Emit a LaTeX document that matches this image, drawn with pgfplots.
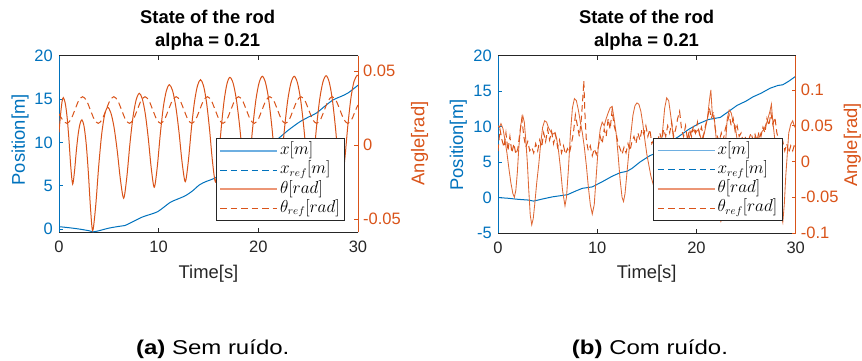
\documentclass[border=0pt]{standalone}
\usepackage{fontspec}
\setmainfont{Liberation Sans}
\newfontfamily\pf[FakeStretch=1.2]{Liberation Sans}
\usepackage{pgfplots}
\pgfplotsset{compat=1.18}
\definecolor{mblue}{RGB}{0,114,189}
\definecolor{morange}{RGB}{217,83,25}
\definecolor{mgray}{RGB}{38,38,38}
\definecolor{lblue}{RGB}{110,175,225}
\definecolor{lorange}{RGB}{236,150,118}

\pgfplotsset{
  base/.style={scale only axis, xmin=0, xmax=30, clip=true, tick align=inside,
    major tick length=4pt, scaled y ticks=false, scaled x ticks=false,
    every tick label/.append style={font=\fontsize{16.5}{16.5}\selectfont},
    legend image code/.code={\draw[##1] (0pt,0pt) -- (57pt,0pt);},
  },
  leftax/.style={base, axis x line*=box, axis y line*=left,
    xtick={0,10,20,30}, xticklabels={0,10,20,30}, xtick pos=both, xticklabel pos=lower,
    x axis line style={mgray, line width=0.7pt}, xtick style={mgray, line width=0.7pt},
    xticklabel style={text=mgray, anchor=base, yshift=-20.4pt},
    y axis line style={mblue, line width=0.7pt}, ytick style={mblue, line width=0.7pt},
    yticklabel style={text=mblue, anchor=east, inner sep=0pt, xshift=-6pt},
    xlabel={Time[s]}, ylabel={Position[m]},
    xlabel style={anchor=center, font=\fontsize{18.4}{18.4}\selectfont, text=mgray},
    ylabel style={anchor=center, font=\fontsize{18.4}{18.4}\selectfont, text=mblue},
    title style={anchor=center, align=center, inner sep=0pt,
      font=\bfseries\fontsize{18.4}{23.4}\selectfont, text=black},
  },
  rightax/.style={base, hide x axis, axis y line*=right,
    y axis line style={morange, line width=0.7pt}, ytick style={morange, line width=0.7pt},
    yticklabel style={text=morange, anchor=west, inner sep=0pt, xshift=5pt},
    ylabel={Angle[rad]},
    ylabel style={anchor=center, font=\fontsize{18.4}{18.4}\selectfont, text=morange},
    legend cell align=left,
    legend style={anchor=south east, draw=mgray, line width=0.8pt, fill=white,
      font=\fontsize{16}{16}\selectfont, inner xsep=3pt, inner ysep=4.2pt,
      row sep=3pt, column sep=0pt,
      nodes={inner xsep=2pt, inner ysep=0pt, text height=12pt, text depth=4.2pt}},
  },
  solidth/.style={morange, line width=1pt},
  solidthn/.style={morange!88, line width=0.85pt},
  dashth/.style={morange, line width=1pt, dash pattern=on 6.5pt off 4pt},
  xline/.style={mblue, line width=1pt},
}

\newcommand{\legendset}{%
  \addlegendimage{lblue, line width=1.8pt}
  \addlegendentry{$x[m]$}
  \addlegendimage{mblue, line width=1pt, dash pattern=on 6.5pt off 4pt}
  \addlegendentry{$x_{ref}[m]$}
  \addlegendimage{lorange, line width=1.8pt}
  \addlegendentry{$\theta[rad]$}
  \addlegendimage{morange, line width=1pt, dash pattern=on 6.5pt off 4pt}
  \addlegendentry{$\theta_{ref}[rad]$}
}

\begin{document}
\begin{tikzpicture}
\useasboundingbox (0,0) rectangle (862pt,361pt);

% ================= (a) left axis: position =================
\begin{axis}[leftax, at={(59pt,128.7pt)}, anchor=south west, width=299pt, height=176.6pt,
  ymin=-0.38, ymax=20, ytick={0,5,10,15,20}, yticklabels={0,5,10,15,20},
  xlabel style={at={(rel axis cs:0.5,-0.232)}},
  ylabel style={at={(rel axis cs:-0.130,0.523)}},
  title={State of the rod\\alpha = 0.21},
  title style={at={(rel axis cs:0.497,1.1115)}}]
\addplot[xline, smooth] coordinates {
(0,0.27) (1,0.15) (2,0.0) (3,-0.2) (3.4,-0.33) (4,-0.2) (5,0.1) (6,0.3) (6.6,0.4)
(7.5,0.9) (8.4,1.4) (9.2,1.7) (9.9,2.0) (10.5,2.5) (11.2,3.1) (12,3.5) (12.7,3.85)
(13.4,4.4) (14.1,5.1) (14.8,5.5) (15.6,5.85) (16.5,6.5) (17.5,7.3) (18.5,8.0)
(19.5,8.7) (20.5,9.3) (21.85,10.3) (23,11.4) (24.2,12.4) (25,12.9) (25.85,13.4)
(26.7,14.2) (27.5,14.9) (28.3,15.3) (29,15.7) (29.9,16.5) (30,16.6)};
\end{axis}

% ================= (a) right axis: angle =================
\begin{axis}[rightax, at={(59pt,128.7pt)}, anchor=south west, width=299pt, height=176.6pt,
  ymin=-0.059, ymax=0.0603, ytick={-0.05,0,0.05}, yticklabels={-0.05,0,0.05},
  ylabel style={at={(rel axis cs:1.206,0.503)}},
  legend style={at={(rel axis cs:0.957,0.063)}}]
\legendset
\addplot[solidth, smooth, forget plot] coordinates {
(0,0.0085) (0.15,0.020) (0.3,0.029) (0.43,0.032)
(0.618,0.0285) (0.806,0.0192) (0.994,0.004) (1.182,-0.0147) (1.37,-0.0264)
(1.556,-0.0177) (1.742,-0.0038) (1.928,0.0075) (2.114,0.0144) (2.3,0.017)
(2.516,0.0125) (2.732,0.0005) (2.948,-0.019) (3.164,-0.043) (3.38,-0.058)
(3.68,-0.0413) (3.98,-0.0146) (4.28,0.0071) (4.58,0.0204) (4.88,0.0254)
(5.202,0.0217) (5.524,0.0119) (5.846,-0.0041) (6.168,-0.0237) (6.49,-0.036)
(6.804,-0.0218) (7.118,0.0009) (7.432,0.0193) (7.746,0.0306) (8.06,0.0349)
(8.36,0.0311) (8.66,0.0209) (8.96,0.0044) (9.26,-0.0159) (9.56,-0.0286)
(9.862,-0.0147) (10.164,0.0074) (10.466,0.0255) (10.768,0.0365) (11.07,0.0407)
(11.39,0.0368) (11.71,0.0263) (12.03,0.0093) (12.35,-0.0117) (12.67,-0.0248)
(12.976,-0.011) (13.282,0.011) (13.588,0.0289) (13.894,0.04) (14.2,0.0441)
(14.5,0.04) (14.8,0.0289) (15.1,0.0109) (15.4,-0.0112) (15.7,-0.025)
(15.99,-0.0109) (16.28,0.0117) (16.57,0.0301) (16.86,0.0415) (17.15,0.0457)
(17.48,0.0415) (17.81,0.0301) (18.14,0.0117) (18.47,-0.0109) (18.8,-0.025)
(19.12,-0.0107) (19.44,0.0121) (19.76,0.0307) (20.08,0.0421) (20.4,0.0464)
(20.72,0.0421) (21.04,0.0307) (21.36,0.0121) (21.68,-0.0107) (22.0,-0.025)
(22.32,-0.0107) (22.64,0.0121) (22.96,0.0307) (23.28,0.0421) (23.6,0.0464)
(23.92,0.0421) (24.24,0.0307) (24.56,0.0121) (24.88,-0.0107) (25.2,-0.025)
(25.52,-0.0106) (25.84,0.0123) (26.16,0.031) (26.48,0.0425) (26.8,0.0468)
(27.11,0.0425) (27.42,0.031) (27.73,0.0123) (28.04,-0.0106) (28.35,-0.025)
(28.66,-0.0106) (28.97,0.0124) (29.28,0.0312) (29.59,0.0427) (29.9,0.047) (30,0.0469)};
\addplot[dashth, smooth, forget plot] coordinates {
(0,0.021) (0.41,0.0165)
(0.805,0.0146) (1.196,0.0172) (1.588,0.0236) (1.979,0.030) (2.37,0.0326) (2.761,0.030) (3.153,0.0236) (3.544,0.0172)
(3.935,0.0146) (4.326,0.0172) (4.718,0.0236) (5.109,0.030) (5.5,0.0326) (5.891,0.030) (6.283,0.0236) (6.674,0.0172)
(7.065,0.0146) (7.456,0.0172) (7.848,0.0236) (8.239,0.030) (8.63,0.0326) (9.021,0.030) (9.413,0.0236) (9.804,0.0172)
(10.195,0.0146) (10.586,0.0172) (10.978,0.0236) (11.369,0.030) (11.76,0.0326) (12.151,0.030) (12.543,0.0236) (12.934,0.0172)
(13.325,0.0146) (13.716,0.0172) (14.108,0.0236) (14.499,0.030) (14.89,0.0326) (15.281,0.030) (15.673,0.0236) (16.064,0.0172)
(16.455,0.0146) (16.846,0.0172) (17.238,0.0236) (17.629,0.030) (18.02,0.0326) (18.411,0.030) (18.803,0.0236) (19.194,0.0172)
(19.585,0.0146) (19.976,0.0172) (20.368,0.0236) (20.759,0.030) (21.15,0.0326) (21.541,0.030) (21.933,0.0236) (22.324,0.0172)
(22.715,0.0146) (23.106,0.0172) (23.498,0.0236) (23.889,0.030) (24.28,0.0326) (24.671,0.030) (25.063,0.0236) (25.454,0.0172)
(25.845,0.0146) (26.236,0.0172) (26.628,0.0236) (27.019,0.030) (27.41,0.0326) (27.801,0.030) (28.193,0.0236) (28.584,0.0172)
(28.975,0.0146) (29.366,0.0172) (29.758,0.0236) (30,0.027)};
\end{axis}

% ================= (b) left axis: position =================
\begin{axis}[leftax, at={(498pt,128pt)}, anchor=south west, width=297.7pt, height=177.3pt,
  ymin=-5, ymax=20, ytick={-5,0,5,10,15,20}, yticklabels={-5,0,5,10,15,20},
  xlabel style={at={(rel axis cs:0.4995,-0.227)}},
  ylabel style={at={(rel axis cs:-0.133,0.496)}},
  title={State of the rod\\alpha = 0.21},
  title style={at={(rel axis cs:0.499,1.111)}}]
\addplot[xline] coordinates {
(0,0.0) (1,-0.1) (2,-0.25) (3,-0.35) (3.6,-0.5) (4.5,-0.2) (5.5,0.1) (6.5,0.3) (7,0.4)
(7.8,0.9) (8.5,1.3) (9.5,1.5) (10.6,2.3) (11.5,3.0) (12.3,3.5) (13,3.7) (13.5,4.1)
(14.3,5.0) (15.3,5.9) (16.3,6.5) (17.2,7.7) (18.2,8.6) (19.2,9.6) (20.2,10.4)
(21.2,11.0) (22.4,11.3) (23.2,12.1) (24.1,13.0) (25.0,13.6) (25.7,14.2) (26.5,14.7)
(27.4,15.4) (28.2,15.8) (28.7,15.9) (29.3,16.4) (30,17.1)};
\end{axis}

% ================= (b) right axis: angle =================
\begin{axis}[rightax, at={(498pt,128pt)}, anchor=south west, width=297.7pt, height=177.3pt,
  ymin=-0.1, ymax=0.148, ytick={-0.1,-0.05,0,0.05,0.1}, yticklabels={-0.1,-0.05,0,0.05,0.1},
  ylabel style={at={(rel axis cs:1.19,0.496)}},
  legend style={at={(rel axis cs:0.956,0.069)}}]
\legendset
\addplot[solidthn, forget plot] coordinates {
(0.0,0.050) (0.15,0.048) (0.3,0.053) (0.5,0.046) (0.7,0.030) (0.9,0.012) (1.1,-0.010)
(1.3,-0.030) (1.5,-0.045) (1.65,-0.050) (1.8,-0.040) (1.95,-0.015) (2.1,0.020) (2.3,0.052)
(2.5,0.064) (2.65,0.055) (2.8,0.030) (2.95,0.000) (3.1,-0.040) (3.25,-0.075) (3.4,-0.0885)
(3.55,-0.080) (3.7,-0.060) (3.9,-0.030) (4.1,-0.005) (4.3,0.025) (4.5,0.048) (4.7,0.057)
(4.9,0.055) (5.1,0.047) (5.3,0.042) (5.5,0.038) (5.7,0.040) (5.9,0.033) (6.1,0.015)
(6.3,-0.010) (6.5,-0.040) (6.75,-0.062) (6.9,-0.050) (7.1,-0.010) (7.3,0.040) (7.5,0.075)
(7.7,0.088) (7.9,0.085) (8.1,0.072) (8.3,0.055) (8.5,0.040) (8.7,0.020) (8.9,-0.005)
(9.1,-0.035) (9.3,-0.060) (9.5,-0.0736) (9.7,-0.060) (9.9,-0.020) (10.1,0.020) (10.3,0.045)
(10.5,0.055) (10.7,0.050) (10.9,0.060) (11.1,0.068) (11.3,0.075) (11.5,0.077) (11.7,0.060)
(11.9,0.040) (12.1,0.010) (12.3,-0.025) (12.5,-0.050) (12.65,-0.056) (12.8,-0.045)
(13.0,-0.015) (13.2,0.015) (13.4,0.040) (13.6,0.065) (13.8,0.078) (14.0,0.082) (14.2,0.080)
(14.4,0.070) (14.6,0.052) (14.8,0.030) (15.0,0.010) (15.2,-0.005) (15.4,-0.020) (15.6,-0.030)
(15.9,-0.045) (16.2,-0.020) (16.5,0.030) (16.8,0.075) (17.0,0.089) (17.2,0.085) (17.4,0.065)
(17.7,0.030) (18.0,-0.010) (18.4,-0.045) (18.7,-0.040) (19.0,0.000) (19.3,0.035) (19.6,0.045)
(19.9,0.040) (20.2,0.045) (20.5,0.030) (20.8,0.040) (21.1,0.060) (21.3,0.085) (21.45,0.100)
(21.6,0.065) (21.8,0.060) (22.0,0.030) (22.2,-0.040) (22.45,-0.085) (22.7,-0.050) (22.9,0.020)
(23.1,0.060) (23.3,0.072) (23.5,0.068) (23.7,0.055) (23.9,0.050) (24.1,0.030) (24.4,0.000)
(24.7,-0.030) (25.0,-0.040) (25.3,-0.020) (25.6,0.015) (25.9,0.035) (26.2,0.030) (26.5,0.040)
(26.8,0.045) (27.1,0.055) (27.4,0.070) (27.55,0.080) (27.7,0.055) (27.9,0.030) (28.1,0.000)
(28.3,-0.040) (28.55,-0.075) (28.7,-0.085) (28.85,-0.060) (29.0,-0.020) (29.15,0.010)
(29.3,0.040) (29.5,0.052) (29.7,0.057) (29.85,0.050) (30.0,0.046)};
\addplot[dashth, forget plot] coordinates {
(0.0,0.015) (0.2,0.045) (0.4,0.030) (0.6,0.020) (0.8,0.040) (1.0,0.015) (1.2,0.035) (1.4,0.012)
(1.6,0.025) (1.8,0.010) (2.0,0.018) (2.2,0.040) (2.4,0.060) (2.6,0.035) (2.8,0.020) (3.0,0.028)
(3.2,0.015) (3.4,0.020) (3.6,0.012) (3.8,0.025) (4.0,0.015) (4.2,0.030) (4.4,0.020) (4.6,0.040)
(4.8,0.028) (5.0,0.045) (5.2,0.030) (5.4,0.042) (5.6,0.025) (5.8,0.038) (6.0,0.020) (6.2,0.030)
(6.4,0.012) (6.6,0.022) (6.8,0.010) (7.0,0.018) (7.2,0.012) (7.4,0.025) (7.6,0.040) (7.8,0.065)
(8.0,0.050) (8.2,0.035) (8.4,0.060) (8.55,0.090) (8.65,0.113) (8.75,0.070) (8.9,0.030) (9.1,0.015)
(9.3,0.022) (9.5,0.008) (9.7,0.018) (9.9,0.010) (10.1,0.020) (10.3,0.035) (10.5,0.025) (10.7,0.045)
(10.9,0.035) (11.1,0.060) (11.3,0.045) (11.5,0.072) (11.7,0.050) (11.9,0.040) (12.1,0.025)
(12.3,0.018) (12.5,0.010) (12.7,0.020) (12.9,0.012) (13.1,0.025) (13.3,0.015) (13.5,0.028)
(13.7,0.035) (13.9,0.025) (14.1,0.040) (14.3,0.030) (14.5,0.045) (14.7,0.038) (14.9,0.050)
(15.1,0.035) (15.3,0.045) (15.5,0.025) (15.7,0.030) (15.9,0.018) (16.1,0.028) (16.3,0.040)
(16.5,0.030) (16.7,0.045) (16.9,0.035) (17.1,0.050) (17.3,0.040) (17.5,0.055) (17.7,0.035)
(17.9,0.045) (18.1,0.060) (18.3,0.070) (18.5,0.045) (18.7,0.035) (18.9,0.050) (19.1,0.030)
(19.3,0.045) (19.5,0.035) (19.7,0.050) (19.9,0.040) (20.1,0.055) (20.3,0.038) (20.5,0.048)
(20.7,0.035) (20.9,0.050) (21.1,0.060) (21.3,0.075) (21.5,0.060) (21.7,0.070) (21.9,0.045)
(22.1,0.035) (22.3,0.028) (22.5,0.040) (22.7,0.030) (22.9,0.045) (23.1,0.055) (23.3,0.065)
(23.5,0.050) (23.7,0.060) (23.9,0.042) (24.1,0.050) (24.3,0.035) (24.5,0.040) (24.7,0.028)
(24.9,0.035) (25.1,0.025) (25.3,0.032) (25.5,0.040) (25.7,0.030) (25.9,0.038) (26.1,0.028)
(26.3,0.042) (26.5,0.035) (26.7,0.048) (26.9,0.040) (27.1,0.060) (27.3,0.050) (27.5,0.068)
(27.7,0.052) (27.9,0.062) (28.1,0.040) (28.3,0.030) (28.5,0.020) (28.7,0.028) (28.9,0.015)
(29.1,0.025) (29.3,0.012) (29.5,0.022) (29.7,0.015) (29.9,0.025) (30.0,0.020)};
\end{axis}

% ================= captions =================
\node[anchor=base, font=\pf\fontsize{20}{20}\selectfont] at (212.7pt,6.2pt) {\textbf{(a)} Sem ruído.};
\node[anchor=base, font=\pf\fontsize{20}{20}\selectfont] at (650pt,6.2pt) {\textbf{(b)} Com ruído.};
\end{tikzpicture}
\end{document}
